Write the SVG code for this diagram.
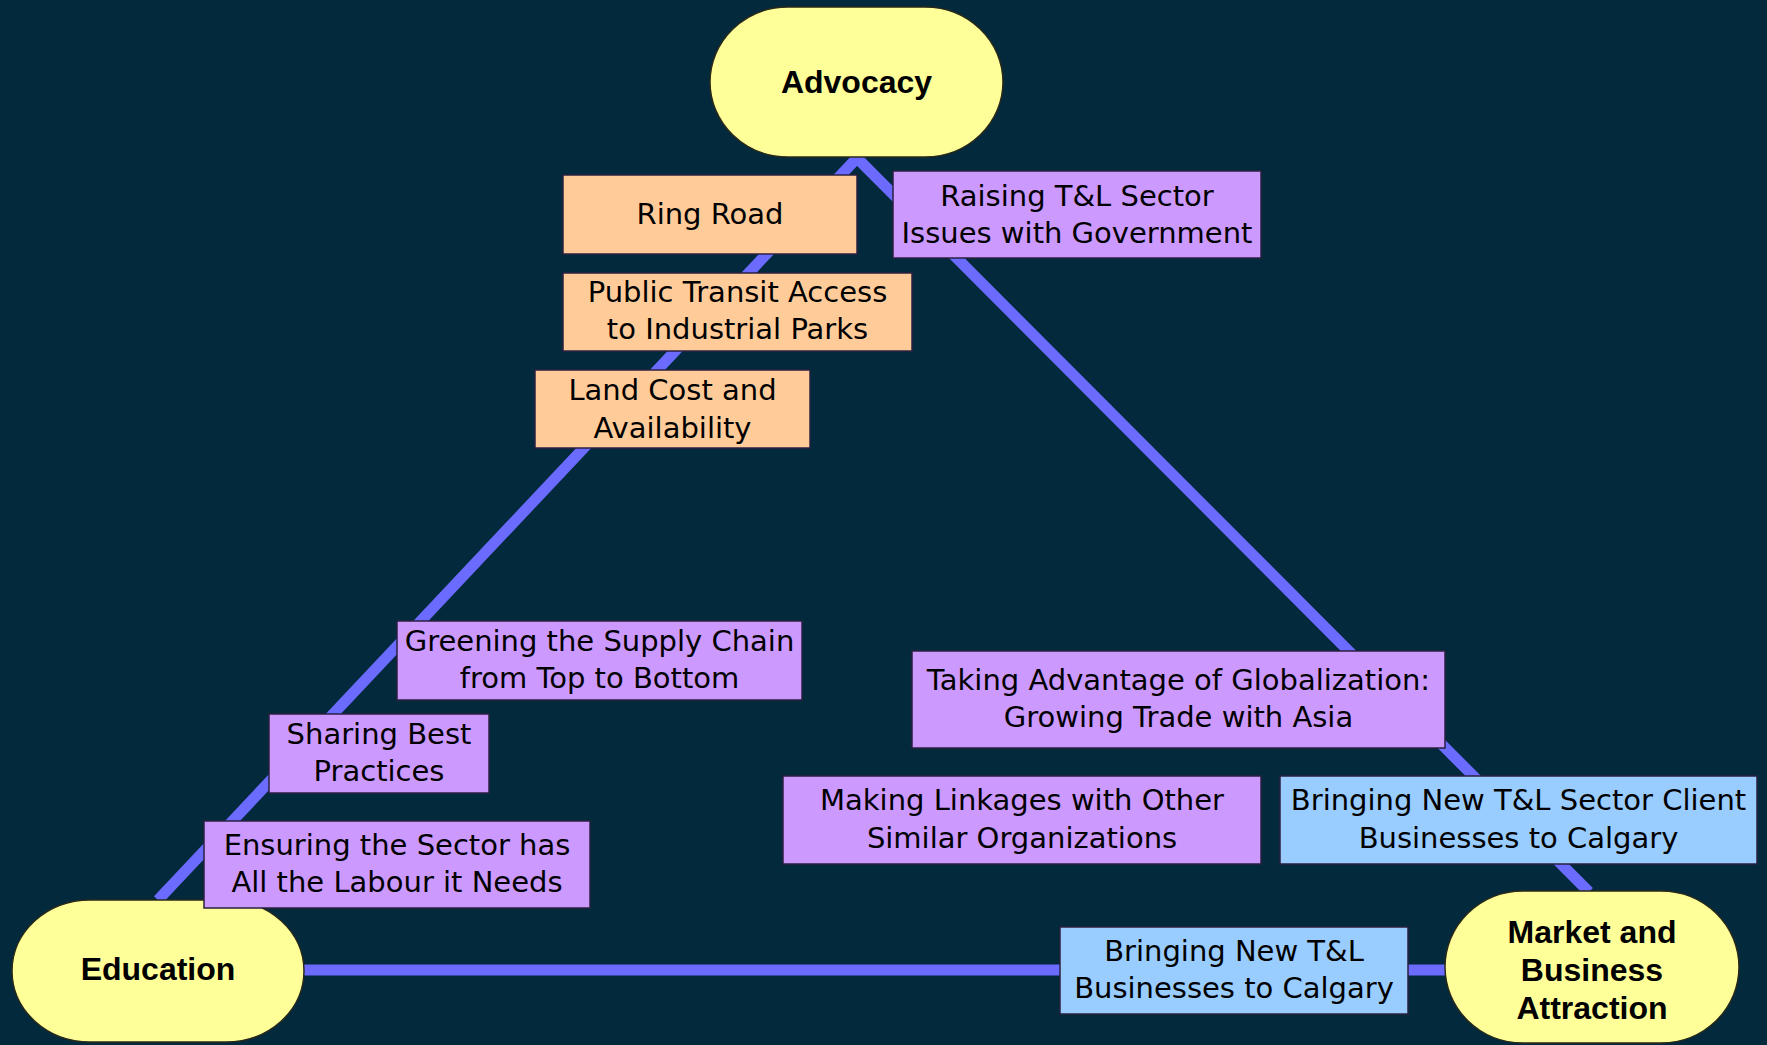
<svg xmlns="http://www.w3.org/2000/svg" width="1767" height="1045" viewBox="0 0 1767 1045">
  <style>
    .bg { fill: #03293d; }
    .link { stroke: #6b6bff; stroke-width: 11; fill: none; }
    .node rect { fill: #ffff99; stroke: #2a2a1a; stroke-width: 1.5; }
    .node text { font-family: "Liberation Sans", Arial, sans-serif; font-weight: bold; font-size: 32px; fill: #000; text-anchor: middle; }
    .label text { font-family: "DejaVu Sans", Verdana, sans-serif; font-size: 29px; fill: #000; text-anchor: middle; }
    .label rect { stroke: #2b2040; stroke-width: 1.5; }
    .orange rect { fill: #ffcc99; }
    .violet rect { fill: #cc99ff; }
    .blue rect { fill: #99ccff; }
  </style>

  <rect class="bg" x="0" y="0" width="1767" height="1045"/>

  <!-- triangle of links between the three themes -->
  <g id="connectors">
    <polyline class="link" points="158,900 857,158 1589,892"/>
    <line class="link" x1="300" y1="970" x2="1450" y2="970"/>
  </g>

  <!-- main themes -->
  <g id="advocacy" class="node">
    <rect x="710" y="7" width="293" height="150" rx="78" ry="75"/>
    <text x="856.5" y="92.5">Advocacy</text>
  </g>
  <g id="education" class="node">
    <rect x="12" y="900" width="292" height="142" rx="78" ry="71"/>
    <text x="158" y="980">Education</text>
  </g>
  <g id="market" class="node">
    <rect x="1445" y="891" width="294" height="152" rx="78" ry="76"/>
    <text x="1592" y="943">Market and</text>
    <text x="1592" y="981">Business</text>
    <text x="1592" y="1019">Attraction</text>
  </g>

  <!-- issues along the links -->
  <g id="ring-road" class="label orange">
    <rect x="563" y="175" width="294" height="79"/>
    <text x="710" y="224">Ring Road</text>
  </g>
  <g id="public-transit" class="label orange">
    <rect x="563" y="273" width="349" height="78"/>
    <text x="737.5" y="302">Public Transit Access</text>
    <text x="737.5" y="339">to Industrial Parks</text>
  </g>
  <g id="land-cost" class="label orange">
    <rect x="535" y="370" width="275" height="78"/>
    <text x="672.5" y="400">Land Cost and</text>
    <text x="672.5" y="438">Availability</text>
  </g>
  <g id="raising-issues" class="label violet">
    <rect x="893" y="171" width="368" height="87"/>
    <text x="1077" y="206">Raising T&amp;L Sector</text>
    <text x="1077" y="243">Issues with Government</text>
  </g>
  <g id="greening" class="label violet">
    <rect x="397" y="621" width="405" height="79"/>
    <text x="599.5" y="651">Greening the Supply Chain</text>
    <text x="599.5" y="688">from Top to Bottom</text>
  </g>
  <g id="sharing" class="label violet">
    <rect x="269" y="714" width="220" height="79"/>
    <text x="379" y="744">Sharing Best</text>
    <text x="379" y="781">Practices</text>
  </g>
  <g id="labour" class="label violet">
    <rect x="204" y="821" width="386" height="87"/>
    <text x="397" y="855">Ensuring the Sector has</text>
    <text x="397" y="892">All the Labour it Needs</text>
  </g>
  <g id="globalization" class="label violet">
    <rect x="912" y="651" width="533" height="97"/>
    <text x="1178.5" y="690">Taking Advantage of Globalization:</text>
    <text x="1178.5" y="727">Growing Trade with Asia</text>
  </g>
  <g id="linkages" class="label violet">
    <rect x="783" y="776" width="478" height="88"/>
    <text x="1022" y="810">Making Linkages with Other</text>
    <text x="1022" y="848">Similar Organizations</text>
  </g>
  <g id="client-businesses" class="label blue">
    <rect x="1280" y="776" width="477" height="88"/>
    <text x="1518.5" y="810">Bringing New T&amp;L Sector Client</text>
    <text x="1518.5" y="848">Businesses to Calgary</text>
  </g>
  <g id="new-businesses" class="label blue">
    <rect x="1060" y="927" width="348" height="87"/>
    <text x="1234" y="961">Bringing New T&amp;L</text>
    <text x="1234" y="998">Businesses to Calgary</text>
  </g>
</svg>
